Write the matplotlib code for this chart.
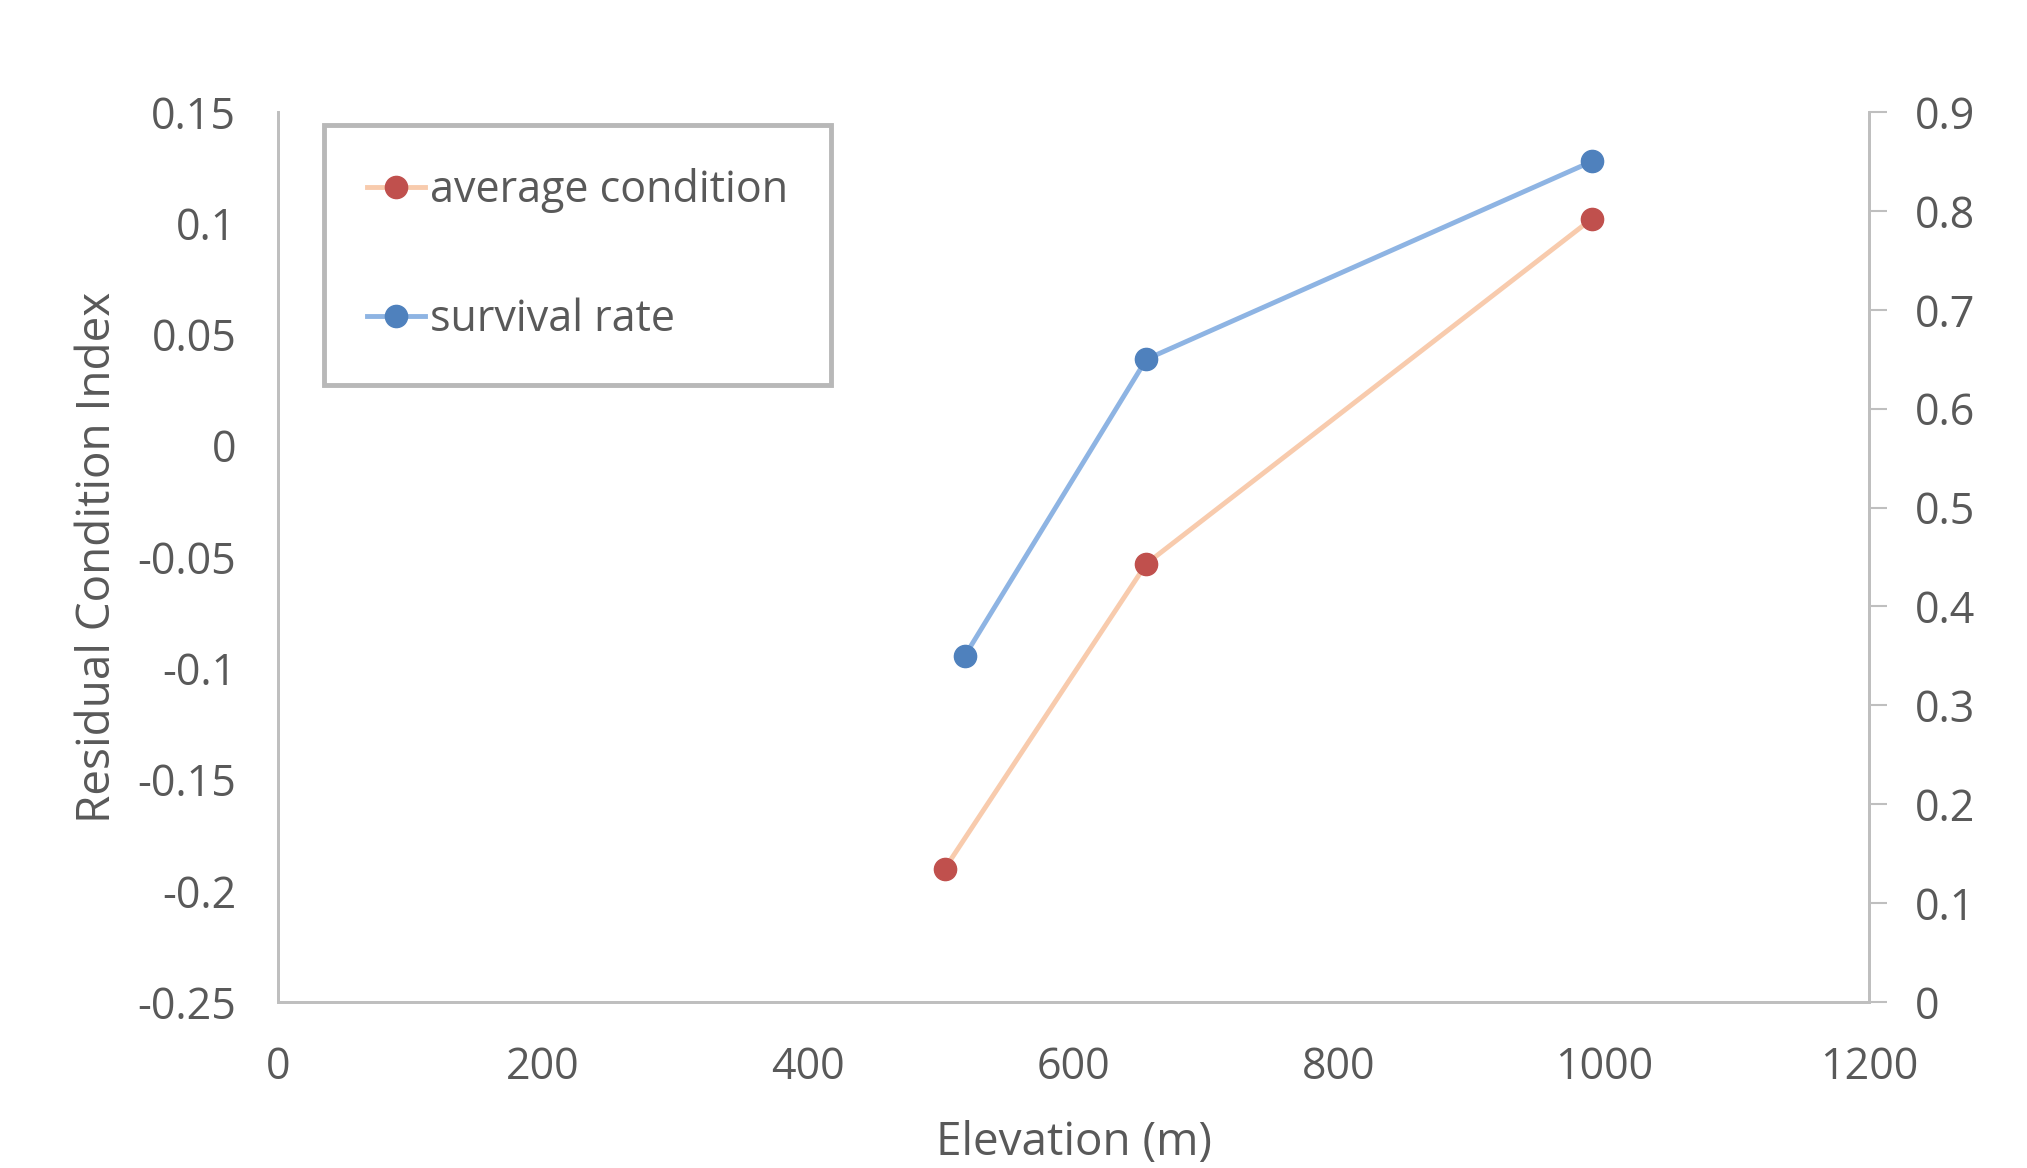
import matplotlib.pyplot as plt

# --- data ---
elev_condition = [503, 655, 991]
avg_condition = [-0.19, -0.053, 0.102]

elev_survival = [518, 655, 991]
survival_rate = [0.35, 0.65, 0.85]

x_ticks = [0, 200, 400, 600, 800, 1000, 1200]
left_ticks = [-0.25, -0.2, -0.15, -0.1, -0.05, 0, 0.05, 0.1, 0.15]
left_labels = ['-0.25', '-0.2', '-0.15', '-0.1', '-0.05', '0', '0.05', '0.1', '0.15']
right_ticks = [0, 0.1, 0.2, 0.3, 0.4, 0.5, 0.6, 0.7, 0.8, 0.9]
right_labels = ['0', '0.1', '0.2', '0.3', '0.4', '0.5', '0.6', '0.7', '0.8', '0.9']

plt.rcParams['font.family'] = ['Open Sans', 'DejaVu Sans']
TEXT = '#595959'
SPINE = '#BFBFBF'
FS = 31

fig = plt.figure(figsize=(20.27, 11.68), dpi=100)
ax = fig.add_axes([278 / 2027, 1 - 1002 / 1168, (1869 - 278) / 2027, (1002 - 112) / 1168])
ax2 = ax.twinx()

l1, = ax.plot(elev_condition, avg_condition, color='#F8CBAD', lw=3.5,
              marker='o', ms=16, mfc='#C0504D', mec='#C0504D', label='average condition')
l2, = ax2.plot(elev_survival, survival_rate, color='#8EB4E3', lw=3.5,
               marker='o', ms=16, mfc='#4F81BD', mec='#4F81BD', label='survival rate')

ax.set_xlim(0, 1200)
ax.set_ylim(-0.25, 0.15)
ax2.set_ylim(0, 0.9)

ax.set_xticks(x_ticks)
ax.set_yticks(left_ticks)
ax.set_yticklabels(left_labels)
ax2.set_yticks(right_ticks)
ax2.set_yticklabels(right_labels)

for a in (ax, ax2):
    a.spines['top'].set_visible(False)
    for s in ('left', 'right', 'bottom'):
        a.spines[s].set_color(SPINE)
        a.spines[s].set_linewidth(2)

ax.tick_params(axis='x', length=0, labelsize=FS, labelcolor=TEXT, pad=31)
ax.tick_params(axis='y', length=0, labelsize=FS, labelcolor=TEXT, pad=30)
ax2.tick_params(axis='y', length=13, width=1.5, color=SPINE, labelsize=FS,
                labelcolor=TEXT, pad=20)

ax.set_ylabel('Residual Condition Index', fontsize=33, color=TEXT, labelpad=12)
ax.set_xlabel('Elevation (m)', fontsize=33, color=TEXT, labelpad=22)

leg = ax.legend(handles=[l1, l2], loc='upper left', bbox_to_anchor=(0.029, 0.985),
                fontsize=FS, frameon=True, fancybox=False, labelcolor=TEXT,
                handlelength=1.35, handletextpad=0.1, labelspacing=1.95,
                borderpad=1.0, borderaxespad=0)
frame = leg.get_frame()
frame.set_edgecolor('#A6A6A6')
frame.set_linewidth(3.5)
for t in leg.get_texts():
    t.set_color(TEXT)

fig.savefig('out.png', dpi=100)
